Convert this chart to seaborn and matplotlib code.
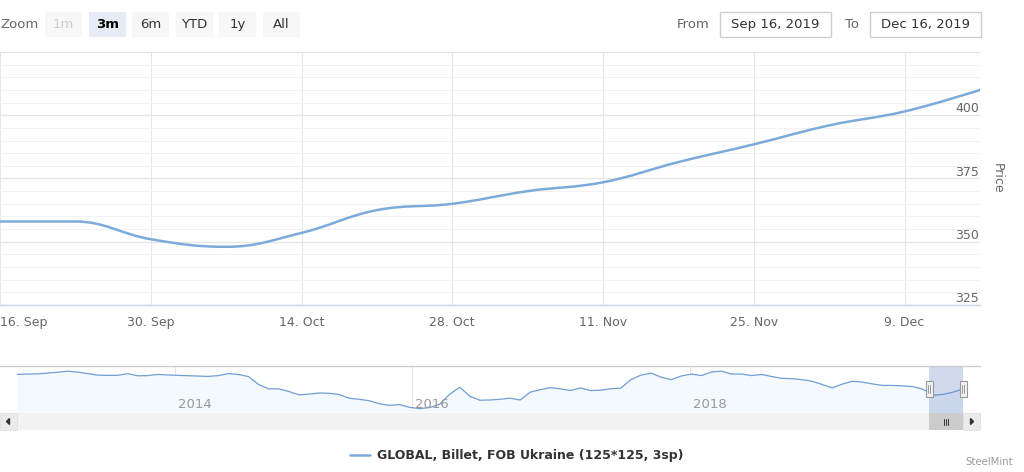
import numpy as np
import pandas as pd
import matplotlib
matplotlib.use("Agg")
import matplotlib.pyplot as plt
import matplotlib.dates as mdates
from matplotlib.path import Path
from matplotlib.patches import PathPatch, Rectangle, Polygon
import seaborn as sns

# weekly prices shown in the 3m window
main_dates = ["2019-09-16", "2019-09-23", "2019-09-30", "2019-10-07", "2019-10-14",
              "2019-10-21", "2019-10-28", "2019-11-04", "2019-11-11", "2019-11-18",
              "2019-11-25", "2019-12-02", "2019-12-09", "2019-12-16"]
main_prices = [358, 358, 351, 348, 353.5, 362.5, 365, 370, 373.5, 381.5,
               388.5, 396, 401.5, 410]

# navigator history (ordinal points, 2012 -> Dec 2019)
nav_prices = [532, 535, 536, 543, 550, 559, 552, 539, 526, 524,
              524, 538, 520, 522, 532, 527, 524, 521, 518, 515,
              522, 539, 531, 514, 447, 410, 410, 388, 360, 365,
              375, 373, 362, 331, 322, 310, 284, 271, 277, 254,
              243, 252, 280, 365, 424, 348, 314, 316, 322, 331,
              316, 382, 403, 420, 410, 396, 418, 395, 399, 411,
              416, 488, 526, 543, 509, 488, 518, 535, 522, 552,
              560, 535, 535, 522, 532, 514, 499, 496, 488, 474,
              447, 418, 450, 474, 467, 452, 439, 439, 435, 429,
              407, 357, 363, 381.5, 410]
nav_years = ["2014", "2016", "2018"]
nav_year_idx = [15.7, 39.2, 66.9]
window_idx = (90.65, 94)

zoom_buttons = ["1m", "3m", "6m", "YTD", "1y", "All"]
date_from = "Sep 16, 2019"
date_to = "Dec 16, 2019"
series_name = "GLOBAL, Billet, FOB Ukraine (125*125, 3sp)"

LINE = "#7cabdb"
GRID = "#e6e6e6"
TXT = "#666666"

sns.set_style("white")
plt.rcParams["font.family"] = ["DejaVu Sans"]

W, H = 1024, 472
fig = plt.figure(figsize=(W / 100, H / 100), dpi=100)


def px_axes(x0, y0, x1, y1, **kw):
    return fig.add_axes([x0 / W, 1 - y1 / H, (x1 - x0) / W, (y1 - y0) / H], **kw)


# ---- main chart
ax = px_axes(0, 52, 980, 305)
d = pd.to_datetime(main_dates)
xs = mdates.date2num(d)
ys = np.array(main_prices, dtype=float)

# highcharts style spline (smoothing 1.5)
def spline_path(x, y, smooth=1.5):
    n = len(x)
    den = smooth + 1
    lc = [(x[0], y[0])] * n
    rc = [(x[0], y[0])] * n
    for i in range(n):
        if i == 0 or i == n - 1:
            lc[i] = rc[i] = (x[i], y[i])
            continue
        lx, ly, nx, ny = x[i - 1], y[i - 1], x[i + 1], y[i + 1]
        lcx = (smooth * x[i] + lx) / den
        lcy = (smooth * y[i] + ly) / den
        rcx = (smooth * x[i] + nx) / den
        rcy = (smooth * y[i] + ny) / den
        corr = (rcy - lcy) * (rcx - x[i]) / (rcx - lcx) + y[i] - rcy
        lcy += corr
        rcy += corr
        if lcy > max(ly, y[i]):
            lcy = max(ly, y[i]); rcy = 2 * y[i] - lcy
        elif lcy < min(ly, y[i]):
            lcy = min(ly, y[i]); rcy = 2 * y[i] - lcy
        if rcy > max(ny, y[i]):
            rcy = max(ny, y[i]); lcy = 2 * y[i] - rcy
        elif rcy < min(ny, y[i]):
            rcy = min(ny, y[i]); lcy = 2 * y[i] - rcy
        lc[i] = (lcx, lcy)
        rc[i] = (rcx, rcy)
    verts = [(x[0], y[0])]
    codes = [Path.MOVETO]
    for i in range(1, n):
        verts += [rc[i - 1], lc[i], (x[i], y[i])]
        codes += [Path.CURVE4] * 3
    return Path(verts, codes)


ax.add_patch(PathPatch(spline_path(xs, ys), fill=False, edgecolor=LINE,
                       lw=1.8, capstyle="round", joinstyle="round", zorder=5))
ax.set_xlim(xs[0], xs[-1])
ax.set_ylim(325, 425)

xt = d[::2]
ax.set_xticks(mdates.date2num(xt))
ax.set_xticklabels([f"{t.day}. {t:%b}" for t in xt], color=TXT, fontsize=9)
ax.get_xticklabels()[0].set_ha("left")
ax.set_yticks([325, 350, 375, 400, 425])
ax.set_yticks(np.arange(325, 426, 5), minor=True)
ax.tick_params(axis="y", left=False, labelleft=False, which="both")
ax.tick_params(axis="x", length=5 * 0.72, width=0.72, color="#ccd6eb", pad=4.5)
ax.grid(True, axis="x", color=GRID, lw=0.72)
ax.grid(True, axis="y", which="major", color=GRID, lw=0.9)
ax.grid(True, axis="y", which="minor", color="#f2f2f2", lw=0.72)
for s in ["top", "left", "right"]:
    ax.spines[s].set_visible(False)
ax.spines["bottom"].set_color("#ccd6eb")
ax.spines["bottom"].set_linewidth(1.0)
for v in [325, 350, 375, 400]:
    ax.text(0.999, v, str(v), transform=ax.get_yaxis_transform(), ha="right",
            va="bottom", color=TXT, fontsize=9)

# ---- navigator
nav = px_axes(17, 366, 963, 413)
idx = np.arange(len(nav_prices))
nav.fill_between(idx, nav_prices, 200, color="#f4f9fe", lw=0)
sns.lineplot(x=idx, y=nav_prices, ax=nav, color="#6f9fd3", lw=0.9)
nav.axvspan(*window_idx, color=(102 / 255, 133 / 255, 194 / 255, 0.3), lw=0, zorder=4)
nav.set_xlim(0, len(nav_prices) - 1)
nav.set_ylim(206, 603)
nav.set_xticks(nav_year_idx)
nav.set_xticklabels([])
nav.set_yticks([])
nav.tick_params(length=0)
nav.grid(True, axis="x", color=GRID, lw=0.72)
nav.set_xlabel("")
nav.set_ylabel("")
for s in nav.spines.values():
    s.set_visible(False)
for yr, p in zip(nav_years, nav_year_idx):
    nav.text(p + 0.3, 0.19, yr, transform=nav.get_xaxis_transform(), ha="left",
             va="center", color="#999999", fontsize=9.5)

# ---- overlay: range selector, scrollbar, legend
ov = fig.add_axes([0, 0, 1, 1], zorder=10)
ov.set_xlim(0, W)
ov.set_ylim(H, 0)
ov.axis("off")
ov.patch.set_alpha(0)

ov.text(0, 24.5, "Zoom", ha="left", va="center", color=TXT, fontsize=9.5)
for i, lab in enumerate(zoom_buttons):
    bx = 45 + i * 43.6
    sel = lab == "3m"
    ov.add_patch(Rectangle((bx, 12), 37, 25, facecolor="#e6ebf5" if sel else "#f7f7f7", lw=0))
    col = "#cccccc" if lab == "1m" else ("#000000" if sel else "#333333")
    ov.text(bx + 18.5, 24.5, lab, ha="center", va="center", color=col, fontsize=9.5,
            fontweight="bold" if sel else "normal")

ov.text(710, 24.5, "From", ha="right", va="center", color=TXT, fontsize=9.5)
ov.add_patch(Rectangle((720, 12), 111, 25, facecolor="white", edgecolor="#cccccc", lw=1))
ov.text(775.5, 24.5, date_from, ha="center", va="center", color="#333333", fontsize=9.5)
ov.text(845, 24.5, "To", ha="left", va="center", color=TXT, fontsize=9.5)
ov.add_patch(Rectangle((870, 12), 111, 25, facecolor="white", edgecolor="#cccccc", lw=1))
ov.text(925.5, 24.5, date_to, ha="center", va="center", color="#333333", fontsize=9.5)

ov.text(997, 178, "Price", rotation=270, ha="center", va="center", color=TXT, fontsize=9)

# navigator outline + handles
ov.plot([0, 980], [366, 366], color="#cccccc", lw=1)
for hx in (929, 963):
    ov.add_patch(Rectangle((hx - 3.5, 381), 7, 16, facecolor="#f2f2f2",
                           edgecolor="#999999", lw=0.8))
    ov.plot([hx - 1, hx - 1], [385, 393], color="#999999", lw=0.7)
    ov.plot([hx + 1, hx + 1], [385, 393], color="#999999", lw=0.7)

# scrollbar
ov.add_patch(Rectangle((0, 413), 980, 17, facecolor="#f2f2f2", lw=0))
ov.add_patch(Rectangle((0, 413), 17, 17, facecolor="#ebebeb", edgecolor="#dddddd", lw=0.5))
ov.add_patch(Rectangle((963, 413), 17, 17, facecolor="#ebebeb", edgecolor="#dddddd", lw=0.5))
ov.add_patch(Rectangle((929, 413), 34, 17, facecolor="#cccccc", lw=0))
ov.add_patch(Polygon([[6.5, 421.5], [9.5, 418.5], [9.5, 424.5]], color="#333333"))
ov.add_patch(Polygon([[973.5, 421.5], [970.5, 418.5], [970.5, 424.5]], color="#333333"))
for k in (-2, 0, 2):
    ov.plot([946 + k, 946 + k], [418.5, 424.5], color="#333333", lw=0.7)

# legend and credit
ov.plot([350, 370], [455, 455], color=LINE, lw=1.8)
ov.text(377, 455, series_name, ha="left", va="center", color="#333333",
        fontsize=9, fontweight="bold")
ov.text(1013, 462, "SteelMint", ha="right", va="center", color="#999999", fontsize=7.3)

fig.savefig("out.png", dpi=100)
